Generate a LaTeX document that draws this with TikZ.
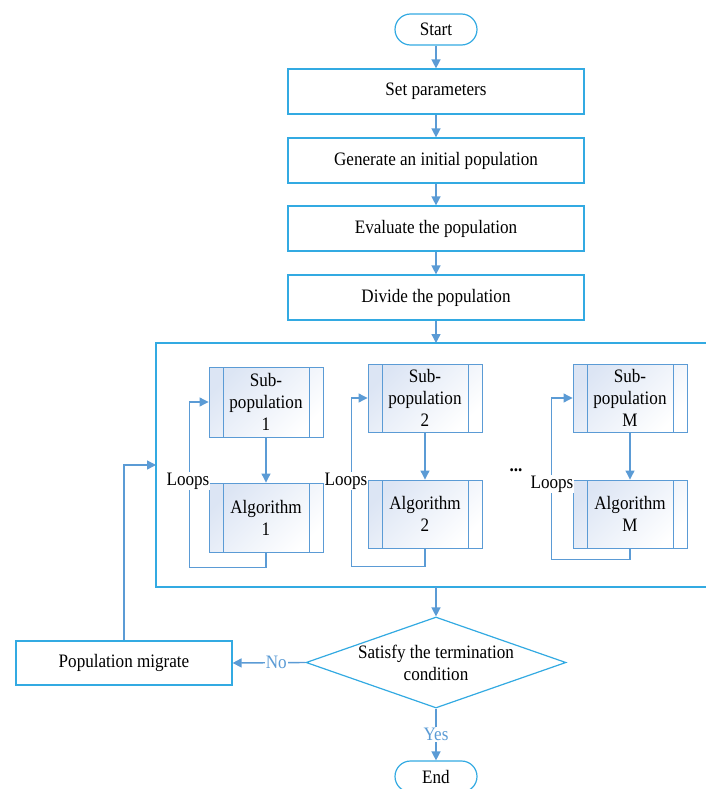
\documentclass[tikz,border=0pt]{standalone}
\usepackage{fontspec}
\setmainfont{Liberation Serif}[FakeStretch=0.9]
\usetikzlibrary{arrows.meta,shapes.geometric}
\definecolor{boxline}{HTML}{33AAE2}
\definecolor{flow}{HTML}{5B9BD5}
\definecolor{subfill}{HTML}{DCE5F4}

\begin{document}
\begin{tikzpicture}[x=1pt,y=-1pt,
  every node/.style={font=\fontsize{19}{22}\selectfont},
  proc/.style={draw=boxline, line width=1.2pt, fill=white, minimum width=296,
    minimum height=45, inner sep=0, align=center},
  term/.style={draw=boxline, line width=1.2pt, fill=white, rounded corners=15.5,
    minimum width=82, minimum height=31, inner sep=0},
  subbox/.style={draw=flow, line width=0.9pt, top color=subfill, bottom color=white,
    shading angle=45,
    minimum width=114, minimum height=69, inner sep=0, align=center,
    path picture={\draw[flow, line width=0.9pt]
      ([xshift=14pt]path picture bounding box.north west) --
      ([xshift=14pt]path picture bounding box.south west)
      ([xshift=-14pt]path picture bounding box.north east) --
      ([xshift=-14pt]path picture bounding box.south east);}},
  cond/.style={diamond, draw=boxline, line width=1.2pt, fill=white, aspect=2.86,
    minimum width=260, minimum height=91, inner sep=0, align=center},
  arr/.style={draw=flow, line width=1.4pt, -{Triangle[length=9pt,width=9pt]}},
  loopline/.style={draw=flow, line width=1.1pt, -{Triangle[length=9pt,width=9pt]}},
  lbl/.style={fill=white, inner sep=1pt},
  ylbl/.style={fill=white, inner sep=1pt, text=flow},
]
\useasboundingbox (0,0) rectangle (705,789);

% main sequence
\node[term] (start) at (436,29.5) {Start};
\node[proc] (setp) at (436,91.5) {Set parameters};
\node[proc] (gen) at (436,160.5) {Generate an initial population};
\node[proc] (eval) at (436,228.5) {Evaluate the population};
\node[proc] (div) at (436,297.5) {Divide the population};

\draw[arr] (start) -- (setp);
\draw[arr] (setp) -- (gen);
\draw[arr] (gen) -- (eval);
\draw[arr] (eval) -- (div);

% frame holding the sub-populations (open to the right)
\coordinate (ctop) at (436,343);
\coordinate (cbot) at (436,587);
\coordinate (cin) at (156,465);
\draw[boxline, line width=1.2pt] (706,343) -- (156,343) -- (156,587) -- (706,587);
\draw[arr] (div) -- (ctop);

% sub-population 1
\node[subbox, minimum height=70] (sub1) at (266,402) {Sub-\\population\\1};
\node[subbox] (alg1) at (266,517.5) {Algorithm\\1};
\draw[loopline] (sub1) -- (alg1);
\draw[loopline] (alg1.south) -- ++(0,15) -| ([xshift=-19pt]sub1.west) -- (sub1.west);
\node[lbl] (lp1) at (188,481) {Loops};

% sub-population 2
\node[subbox, minimum height=68] (sub2) at (425,398) {Sub-\\population\\2};
\node[subbox, minimum height=68] (alg2) at (425,514) {Algorithm\\2};
\draw[loopline] (sub2) -- (alg2);
\draw[loopline] (alg2.south) -- ++(0,18) -| ([xshift=-16pt]sub2.west) -- (sub2.west);
\node[lbl] (lp2) at (346,481) {Loops};

% dots between groups
\node[anchor=base, inner sep=0] (dots) at (516,471) {\textbf{...}};

% sub-population M
\node[subbox, minimum height=68] (subM) at (630,398) {Sub-\\population\\M};
\node[subbox, minimum height=68] (algM) at (630,514) {Algorithm\\M};
\draw[loopline] (subM) -- (algM);
\draw[loopline] (algM.south) -- ++(0,11) -| ([xshift=-21pt]subM.west) -- (subM.west);
\node[lbl] (lpM) at (552,484) {Loops};

% termination test
\node[cond] (test) at (436,662.5) {Satisfy the termination\\condition};
\draw[arr] (cbot) -- (test);

\node[proc, minimum width=216, minimum height=44] (mig) at (124,663) {Population migrate};
\draw[arr] (test.west) -- node[ylbl, pos=0.4] {No} (mig.east);
\draw[arr] (mig.north) |- (cin);

\node[term] (end) at (436,776.5) {End};
\draw[arr] (test.south) -- node[ylbl] {Yes} (end);
\end{tikzpicture}
\end{document}
